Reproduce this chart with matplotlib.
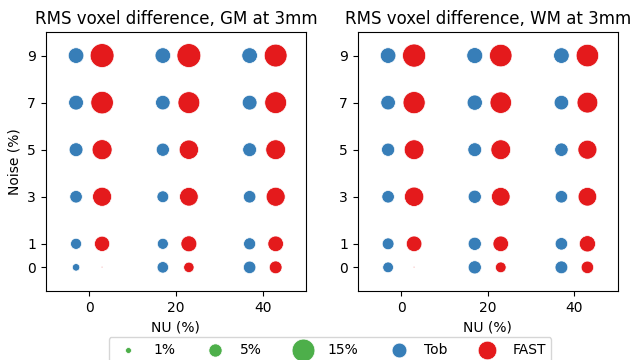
import matplotlib
matplotlib.use("Agg")
import matplotlib.pyplot as plt
import numpy as np

# RMS voxel difference (%) per noise level (rows) and NU level (columns)
noise = [9, 7, 5, 3, 1, 0]
nu = [0, 20, 40]

gm_tob = [
    [7.0, 7.0, 7.0],
    [6.3, 6.1, 6.3],
    [5.5, 5.0, 5.5],
    [4.5, 4.0, 4.5],
    [3.5, 3.5, 4.2],
    [1.6, 3.8, 4.5],
]
gm_fast = [
    [16.4, 16.4, 15.0],
    [14.6, 13.7, 13.7],
    [11.5, 10.8, 11.2],
    [10.4, 10.0, 10.4],
    [6.7, 7.3, 7.0],
    [0.05, 3.1, 4.7],
]
wm_tob = [
    [7.0, 7.3, 7.0],
    [6.1, 6.7, 6.1],
    [5.0, 5.5, 5.2],
    [4.5, 5.0, 4.5],
    [4.0, 5.0, 4.5],
    [3.3, 5.0, 4.7],
]
wm_fast = [
    [15.4, 14.6, 14.6],
    [14.1, 13.3, 12.4],
    [11.2, 11.2, 10.4],
    [10.8, 10.0, 10.0],
    [7.0, 7.0, 7.6],
    [0.05, 3.3, 4.5],
]

size_levels = [1, 5, 15]
tob_color = "#377eb8"
fast_color = "#e41a1c"
legend_green = "#4daf4a"
scale = 18  # marker area per percent


def draw_panel(ax, tob, fast, title):
    xx, yy = np.meshgrid(nu, noise)
    ax.scatter(xx.ravel() - 3, yy.ravel(), s=np.array(tob).ravel() * scale,
               color=tob_color, edgecolors="white", linewidths=0.5)
    ax.scatter(xx.ravel() + 3, yy.ravel(), s=np.array(fast).ravel() * scale,
               color=fast_color, edgecolors="white", linewidths=0.5)
    ax.set_xlim(-10, 50)
    ax.set_ylim(-1, 10)
    ax.set_yticks([0, 1, 3, 5, 7, 9])
    ax.set_xticks([0, 20, 40])
    ax.set_xlabel("NU (%)")
    ax.set_title(title)


fig = plt.figure(figsize=(6.31, 3.6), dpi=100)
ax1 = fig.add_axes([0.0724, 0.192, 0.4126, 0.719])
ax2 = fig.add_axes([0.567, 0.192, 0.412, 0.719])

draw_panel(ax1, gm_tob, gm_fast, "RMS voxel difference, GM at 3mm")
draw_panel(ax2, wm_tob, wm_fast, "RMS voxel difference, WM at 3mm")
ax1.set_ylabel("Noise (%)")

handles = []
for lvl in size_levels:
    handles.append(ax1.scatter([], [], s=lvl * scale, color=legend_green,
                               edgecolors="white", linewidths=0.5, label=f"{lvl}%"))
handles.append(ax1.scatter([], [], s=6.3 * scale, color=tob_color,
                           edgecolors="white", linewidths=0.5, label="Tob"))
handles.append(ax1.scatter([], [], s=10 * scale, color=fast_color,
                           edgecolors="white", linewidths=0.5, label="FAST"))

fig.legend(handles=handles, loc="upper center", bbox_to_anchor=(0.523, 0.064),
           ncol=5, frameon=True, columnspacing=1.9, borderaxespad=0)

fig.savefig("out.png", dpi=100)
